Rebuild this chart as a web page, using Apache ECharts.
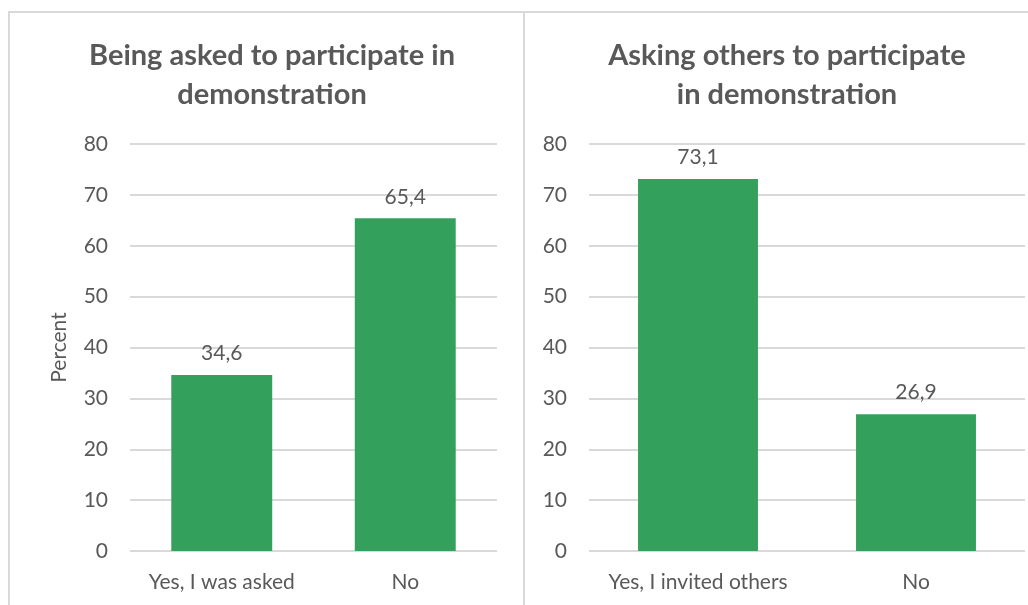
<!DOCTYPE html>
<html><head><meta charset="utf-8">
<script src="https://cdn.jsdelivr.net/npm/echarts@6/dist/echarts.min.js"></script>
<style>html,body{margin:0;padding:0;background:#fff}#c{width:1028px;height:605px}</style>
</head><body><div id="c"></div>
<script>
const titleLeft = "Being asked to participate in\ndemonstration";
const titleRight = "Asking others to participate\nin demonstration";
const catsLeft = ["Yes, I was asked", "No"];
const valsLeft = [34.6, 65.4];
const catsRight = ["Yes, I invited others", "No"];
const valsRight = [73.1, 26.9];
const yTicks = [0, 10, 20, 30, 40, 50, 60, 70, 80];
const yName = "Percent";

const txt = "#595959";
const font = "Lato, 'Open Sans', sans-serif";
const green = "#33A05B";
const fs = 21;
const chart = echarts.init(document.getElementById('c'), null, {renderer: 'canvas'});

function yAxis(idx, name) {
  return {
    gridIndex: idx, type: 'value', min: yTicks[0], max: yTicks[yTicks.length-1], interval: 10,
    name: name, nameLocation: 'middle', nameGap: 60, nameRotate: 90,
    nameTextStyle: {color: txt, fontSize: fs, fontFamily: font},
    axisLine: {show: false}, axisTick: {show: false},
    axisLabel: {color: txt, fontSize: fs, fontFamily: font, margin: 22},
    splitLine: {lineStyle: {color: '#d9d9d9', width: 2}}
  };
}
function xAxis(idx, cats) {
  return {
    gridIndex: idx, type: 'category', data: cats,
    axisLine: {show: false}, axisTick: {show: false},
    axisLabel: {color: txt, fontSize: fs, fontFamily: font, margin: 21, interval: 0, hideOverlap: false}
  };
}
function series(idx, vals) {
  return {
    type: 'bar', xAxisIndex: idx, yAxisIndex: idx, data: vals, barWidth: '55%',
    itemStyle: {color: green},
    label: {show: true, position: 'top', distance: 11, color: txt, fontSize: fs, fontFamily: font,
      formatter: p => p.value.toFixed(1).replace('.', ',')}
  };
}

chart.setOption({
  animation: false,
  backgroundColor: '#fff',
  title: [
    {text: titleLeft, left: 267, top: 31, textAlign: 'center',
     textStyle: {color: txt, fontSize: 29, fontWeight: 'bold', fontFamily: font, lineHeight: 39}},
    {text: titleRight, left: 782, top: 31, textAlign: 'center',
     textStyle: {color: txt, fontSize: 29, fontWeight: 'bold', fontFamily: font, lineHeight: 39}}
  ],
  grid: [
    {left: 130, top: 144, width: 367, height: 407},
    {left: 589, top: 144, width: 436, height: 407}
  ],
  xAxis: [xAxis(0, catsLeft), xAxis(1, catsRight)],
  yAxis: [yAxis(0, yName), yAxis(1, '')],
  series: [series(0, valsLeft), series(1, valsRight)],
  graphic: [
    {type: 'line', shape: {x1: 8, y1: 12, x2: 1028, y2: 12}, style: {stroke: '#d9d9d9', lineWidth: 2}},
    {type: 'line', shape: {x1: 9, y1: 12, x2: 9, y2: 605}, style: {stroke: '#d9d9d9', lineWidth: 2}},
    {type: 'line', shape: {x1: 524, y1: 12, x2: 524, y2: 605}, style: {stroke: '#d9d9d9', lineWidth: 2}}
  ]
});
</script></body></html>
